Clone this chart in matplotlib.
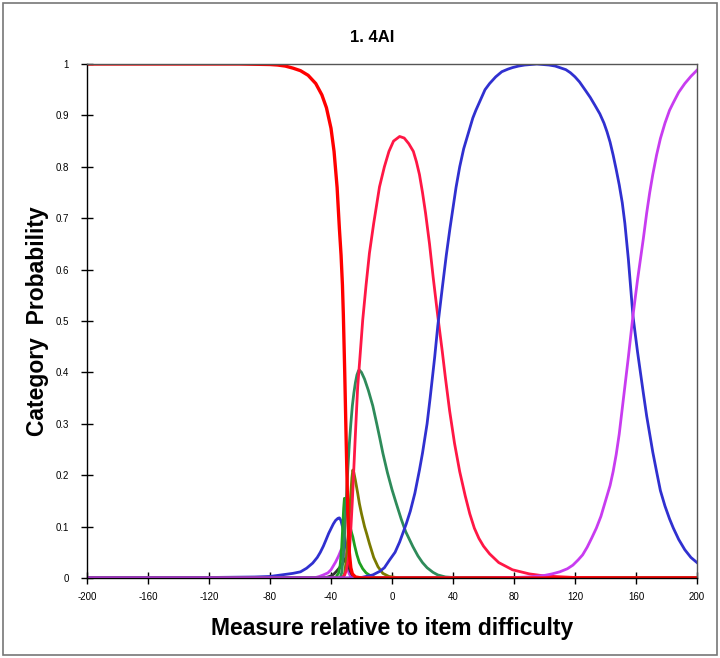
import matplotlib
matplotlib.use("Agg")
import matplotlib.pyplot as plt
from matplotlib.patches import Rectangle

plt.rcParams['font.family'] = ['Liberation Sans', 'DejaVu Sans']

title = "1. 4AI"
xlabel = "Measure relative to item difficulty"
ylabel = "Category  Probability"
xticks = [-200, -160, -120, -80, -40, 0, 40, 80, 120, 160, 200]
yticks = [0, 0.1, 0.2, 0.3, 0.4, 0.5, 0.6, 0.7, 0.8, 0.9, 1]
ytick_labels = ["0", "0.1", "0.2", "0.3", "0.4", "0.5", "0.6", "0.7", "0.8", "0.9", "1"]

# category curves
red0_x = [-200, -100, -80, -75, -70, -65, -60, -55, -50, -46, -43, -40, -38, -36, -34.5, -33.4, -32.5, -31.9, -31, -30, -29, -28, -27, -26, -24, -20, 200]
red0_y = [1, 1, 0.999, 0.998, 0.996, 0.992, 0.987, 0.978, 0.962, 0.94, 0.915, 0.875, 0.83, 0.76, 0.68, 0.628, 0.57, 0.512, 0.40, 0.26, 0.13, 0.05, 0.02, 0.008, 0.002, 0, 0]

blue1_x = [-200, -175, -120, -90, -80, -75, -70, -65, -60, -56, -52, -49, -47, -45, -43.3, -41.5, -40, -38.5, -37, -35.5, -34.5, -33.5, -32.5, -31.5, -30.5, -30, -29, -28, -27, -26, -24, -20, 200]
blue1_y = [0, 0.001, 0.001, 0.002, 0.003, 0.005, 0.007, 0.009, 0.012, 0.019, 0.029, 0.04, 0.05, 0.062, 0.074, 0.087, 0.096, 0.105, 0.112, 0.116, 0.117, 0.112, 0.1, 0.085, 0.068, 0.061, 0.042, 0.025, 0.012, 0.005, 0.001, 0, 0]

mag2_x = [-200, -55, -50, -47.6, -45, -42, -40, -38.8, -37, -35, -33.5, -32.3, -31.5, -30.5, -29.5, -29, -28, -27, -26, 200]
mag2_y = [0, 0, 0.001, 0.003, 0.006, 0.01, 0.016, 0.022, 0.031, 0.043, 0.054, 0.058, 0.052, 0.04, 0.024, 0.016, 0.008, 0.003, 0, 0]

black3_x = [-200, -45, -42, -40, -38, -36.7, -35, -33, -31.5, -30.5, -29.5, -28.5, -27.5, -26.5, -25.7, -24, -23, 200]
black3_y = [0, 0, 0.002, 0.004, 0.008, 0.012, 0.018, 0.025, 0.033, 0.038, 0.033, 0.024, 0.014, 0.008, 0.005, 0.001, 0, 0]

green4_x = [-200, -37, -35, -34, -33, -32.3, -31.7, -31.2, -30.5, -29.5, -28.5, -27.5, -26.5, -25.7, -24.5, -23, -21.4, -19.2, -17, -14, -10, 200]
green4_y = [0, 0, 0.01, 0.025, 0.06, 0.1, 0.135, 0.155, 0.15, 0.135, 0.118, 0.1, 0.088, 0.08, 0.063, 0.045, 0.03, 0.018, 0.01, 0.004, 0, 0]

olive5_x = [-200, -32, -31, -30, -29, -28, -27, -26.3, -25.7, -25, -24, -22.5, -21.4, -20, -18, -16.5, -14.8, -12, -9.2, -6, -2, 5, 200]
olive5_y = [0, 0, 0.01, 0.035, 0.075, 0.12, 0.165, 0.195, 0.21, 0.205, 0.19, 0.165, 0.145, 0.125, 0.1, 0.085, 0.067, 0.04, 0.022, 0.009, 0.003, 0, 0]

teal6_x = [-200, -34, -33, -32, -31, -30, -29, -28, -27, -26, -25, -24, -23, -22, -21.5, -20, -18, -15.5, -12.6, -10, -8, -6, -3, 0, 2.8, 6, 9, 13.7, 17, 20, 23, 26.9, 30, 35, 40, 45, 200]
teal6_y = [0, 0, 0.01, 0.04, 0.09, 0.15, 0.21, 0.26, 0.30, 0.335, 0.36, 0.38, 0.395, 0.403, 0.405, 0.40, 0.387, 0.365, 0.335, 0.30, 0.272, 0.243, 0.205, 0.172, 0.145, 0.115, 0.09, 0.061, 0.043, 0.03, 0.02, 0.011, 0.006, 0.002, 0.001, 0, 0]

red7_x = [-200, -33, -31, -30, -29, -28, -27, -26, -25, -24, -22.5, -21, -19.2, -17, -14.8, -12, -8.2, -5, -2, 1, 5, 8, 11, 14, 16, 18, 20, 22, 24.6, 27, 30, 33, 35, 37.8, 41, 44.4, 48, 51, 54, 57, 60, 64, 70, 79, 90, 100, 120, 150, 200]
red7_y = [0, 0, 0.006, 0.015, 0.03, 0.05, 0.095, 0.15, 0.215, 0.28, 0.372, 0.43, 0.502, 0.57, 0.632, 0.69, 0.761, 0.80, 0.83, 0.85, 0.859, 0.856, 0.845, 0.83, 0.81, 0.785, 0.75, 0.71, 0.65, 0.585, 0.51, 0.44, 0.39, 0.325, 0.262, 0.207, 0.16, 0.125, 0.097, 0.077, 0.062, 0.047, 0.03, 0.016, 0.008, 0.004, 0.001, 0, 0]

blue8_x = [-200, -30, -20, -12.6, -8, -5, -1.6, 2, 5, 9.3, 12, 15, 18, 20, 23, 25, 28, 30, 33, 35.6, 38, 40, 42, 44.4, 47, 50, 53, 55, 58, 61, 64, 68, 72, 76, 79, 83, 87, 91, 95, 99, 103, 107, 110, 114, 117, 120, 123, 127, 130, 133, 136.3, 139, 141, 143, 145, 147, 149, 151, 152.7, 155, 158, 161, 164.8, 167, 169, 171, 173.5, 176, 179, 182, 184.5, 188, 192, 196, 200]
blue8_y = [0, 0, 0.001, 0.006, 0.013, 0.02, 0.035, 0.05, 0.07, 0.105, 0.13, 0.165, 0.21, 0.243, 0.30, 0.35, 0.43, 0.49, 0.565, 0.628, 0.68, 0.72, 0.76, 0.80, 0.835, 0.865, 0.895, 0.91, 0.93, 0.95, 0.962, 0.975, 0.985, 0.99, 0.993, 0.996, 0.998, 0.999, 1.0, 0.999, 0.998, 0.996, 0.993, 0.989, 0.983, 0.975, 0.965, 0.948, 0.935, 0.92, 0.903, 0.885, 0.868, 0.848, 0.823, 0.795, 0.765, 0.73, 0.69, 0.62, 0.51, 0.44, 0.36, 0.315, 0.28, 0.245, 0.207, 0.17, 0.14, 0.115, 0.097, 0.075, 0.055, 0.04, 0.03]

mag9_x = [-200, 60, 80, 90, 100, 105, 110, 115, 118.6, 122, 125, 128, 131, 134, 137, 140, 143, 145, 147, 149, 151, 152.6, 155, 158, 161, 164.8, 167, 169, 171, 173.5, 176, 179, 182, 184.5, 188, 192, 196, 200]
mag9_y = [0, 0, 0.001, 0.002, 0.005, 0.008, 0.012, 0.018, 0.025, 0.035, 0.045, 0.06, 0.078, 0.097, 0.12, 0.15, 0.18, 0.207, 0.24, 0.28, 0.33, 0.37, 0.43, 0.51, 0.58, 0.66, 0.71, 0.75, 0.785, 0.823, 0.855, 0.885, 0.91, 0.925, 0.945, 0.962, 0.976, 0.988]

maroon_x = [-30, 200]
maroon_y = [0, 0]

fig = plt.figure(figsize=(7.2, 6.58), dpi=100)
fig.patch.set_facecolor('white')
fig.add_artist(Rectangle((0.004, 0.004), 0.992, 0.992, transform=fig.transFigure,
                         fill=False, edgecolor='#777777', linewidth=1.2))
ax = fig.add_axes([87/720, 1 - 578/658, (697 - 87)/720, (578 - 64)/658])

lw = 2.0
ax.plot(maroon_x, maroon_y, color='#8B1A1A', lw=lw)
ax.plot(blue1_x, blue1_y, color='#3030D0', lw=lw)
ax.plot(mag2_x, mag2_y, color='#C83CF0', lw=lw)
ax.plot(black3_x, black3_y, color='#333333', lw=lw)
ax.plot(green4_x, green4_y, color='#1FA01F', lw=lw)
ax.plot(olive5_x, olive5_y, color='#7A7A00', lw=lw)
ax.plot(teal6_x, teal6_y, color='#2E8B5A', lw=lw)
ax.plot(red7_x, red7_y, color='#FF1745', lw=lw)
ax.plot(blue8_x, blue8_y, color='#3030D0', lw=lw)
ax.plot(mag9_x, mag9_y, color='#C83CF0', lw=lw)
ax.plot(red0_x, red0_y, color='#FF0000', lw=2.4)

ax.set_xlim(-200, 200)
ax.set_ylim(0, 1)
ax.set_xticks(xticks)
ax.set_xticklabels([str(v) for v in xticks])
ax.set_yticks(yticks)
ax.set_yticklabels(ytick_labels)
ax.tick_params(direction='inout', length=8, width=1, labelsize=7, colors='black')
ax.tick_params(axis='x', pad=6)
ax.tick_params(axis='y', pad=9)
for s in ['left', 'bottom']:
    ax.spines[s].set_color('black')
    ax.spines[s].set_linewidth(1.0)
for s in ['top', 'right']:
    ax.spines[s].set_color('#555555')
    ax.spines[s].set_linewidth(1.0)

fig.text(372/720, 1 - 38/658, title, ha='center', va='center', fontsize=12, fontweight='bold')
ax.set_xlabel(xlabel, fontsize=16.5, fontweight='bold')
ax.set_ylabel(ylabel, fontsize=16.5, fontweight='bold')
ax.xaxis.set_label_coords(0.5, (578 - 628) / 514, transform=ax.transAxes)
ax.yaxis.set_label_coords((38 - 87) / 610, 0.5, transform=ax.transAxes)
ax.xaxis.label.set_va('center')
ax.yaxis.label.set_va('center')

fig.savefig('out.png', dpi=100, facecolor='white')
